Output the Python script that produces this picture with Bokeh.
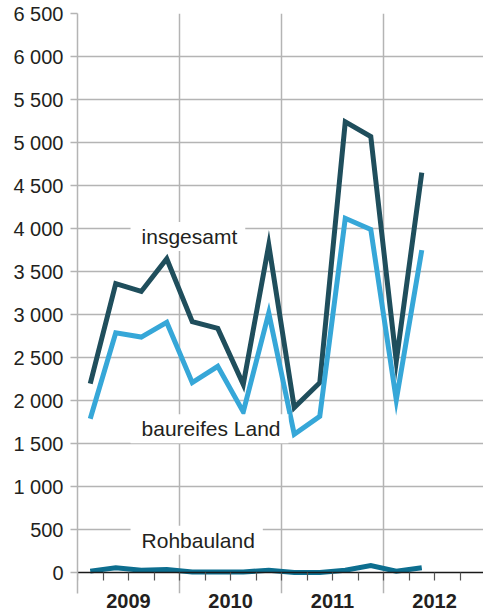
from bokeh.plotting import figure
from bokeh.models import Range1d, FixedTicker, LinearAxis, Label, Grid
from bokeh.embed import file_html
from bokeh.resources import INLINE

# Quarterly data 2009 Q1 .. 2012 Q2
quarters = [0.5, 1.5, 2.5, 3.5, 4.5, 5.5, 6.5, 7.5, 8.5, 9.5, 10.5, 11.5, 12.5, 13.5]
insgesamt = [2200, 3360, 3270, 3650, 2920, 2840, 2190, 3810, 1920, 2210, 5240, 5070, 2460, 4650]
baureifes_land = [1790, 2790, 2740, 2910, 2210, 2400, 1870, 3020, 1610, 1820, 4120, 3990, 2010, 3750]
rohbauland = [20, 60, 30, 40, 10, 10, 10, 30, 5, 5, 30, 85, 20, 60]

years = ["2009", "2010", "2011", "2012"]
year_centers = [2, 6, 10, 14]
year_bounds = [0, 4, 8, 12, 16]
quarter_ticks = list(range(0, 17))

y_ticks = [0, 500, 1000, 1500, 2000, 2500, 3000, 3500, 4000, 4500, 5000, 5500, 6000, 6500]
y_tick_labels = ["0", "500", "1 000", "1 500", "2 000", "2 500", "3 000", "3 500",
                 "4 000", "4 500", "5 000", "5 500", "6 000", "6 500"]

FONT = "Liberation Sans"
TXT = "#231f20"
GRID = "#b4b4b4"

p = figure(width=483, height=613, output_backend="svg", toolbar_location=None,
           x_range=Range1d(0, 15.92), y_range=Range1d(-240, 6500),
           min_border_left=77, min_border_right=0, min_border_top=13, min_border_bottom=20,
           x_axis_type=None)
p.outline_line_color = None
p.background_fill_color = "white"
p.border_fill_color = "white"

# y axis
p.yaxis.ticker = FixedTicker(ticks=y_ticks)
p.yaxis.major_label_overrides = {t: l for t, l in zip(y_ticks, y_tick_labels)}
p.yaxis.major_label_text_font = FONT
p.yaxis.major_label_text_font_size = "20px"
p.yaxis.major_label_text_color = TXT
p.yaxis.major_label_standoff = 7
p.yaxis.major_tick_out = 7
p.yaxis.major_tick_in = 0
p.yaxis.major_tick_line_color = GRID
p.yaxis.major_tick_line_width = 1.5
p.yaxis.minor_tick_line_color = None
p.yaxis.axis_line_color = GRID
p.yaxis.axis_line_width = 1.5

p.ygrid.ticker = FixedTicker(ticks=y_ticks[1:])
p.ygrid.grid_line_color = GRID
p.ygrid.grid_line_width = 1.5

vgrid = Grid(dimension=0, ticker=FixedTicker(ticks=year_bounds[1:]),
             grid_line_color=GRID, grid_line_width=1.5)
p.add_layout(vgrid)

# year labels below the frame
year_axis = LinearAxis(ticker=FixedTicker(ticks=year_centers, minor_ticks=[]),
                       major_label_overrides={c: y for c, y in zip(year_centers, years)})
year_axis.axis_line_color = None
year_axis.major_tick_line_color = None
year_axis.minor_tick_line_color = None
year_axis.major_tick_out = 0
year_axis.major_tick_in = 0
year_axis.major_label_standoff = 0
year_axis.major_label_text_font = FONT
year_axis.major_label_text_font_style = "bold"
year_axis.major_label_text_font_size = "20px"
year_axis.major_label_text_color = TXT
p.add_layout(year_axis, "below")

# zero line with quarter ticks
zero_axis = LinearAxis(fixed_location=0,
                       ticker=FixedTicker(ticks=year_centers, minor_ticks=quarter_ticks))
zero_axis.axis_line_color = "#1a1a1a"
zero_axis.axis_line_width = 1.5
zero_axis.major_tick_line_color = None
zero_axis.major_tick_out = 0
zero_axis.minor_tick_out = 8
zero_axis.minor_tick_in = 0
zero_axis.minor_tick_line_color = "#555555"
zero_axis.minor_tick_line_width = 1.2
zero_axis.major_label_text_color = None
p.add_layout(zero_axis, "below")

# series
p.line(quarters, rohbauland, line_color="#0d6e8f", line_width=5, line_join="miter")
p.line(quarters, insgesamt, line_color="#1f4e5c", line_width=5, line_join="miter")
p.line(quarters, baureifes_land, line_color="#36a7d8", line_width=5, line_join="miter")

# labels
for txt, yv in [("insgesamt", 3910), ("baureifes Land", 1675), ("Rohbauland", 380)]:
    p.add_layout(Label(x=2.08, y=yv, text=txt, text_font=FONT, text_font_size="21px",
                       text_color=TXT, text_align="left", text_baseline="middle",
                       background_fill_color="white",
                       padding=dict(left=11, right=8, top=3, bottom=3)))

open("out.html", "w").write(file_html(p, INLINE))
